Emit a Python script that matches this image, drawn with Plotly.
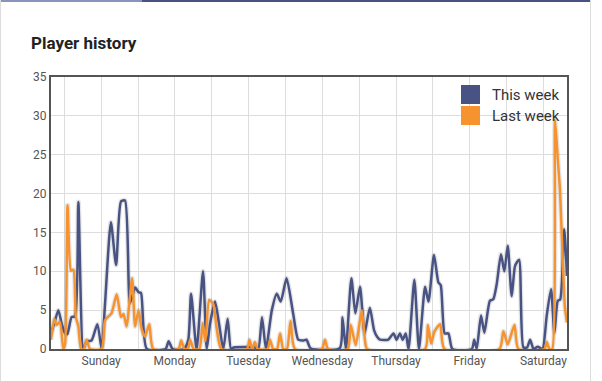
import plotly.graph_objects as go

# ---------------- data ----------------
# hours since the start of the 7‑day window (window starts 16.33 h before Sunday 00:00)
WINDOW_TO_SUNDAY = 16.33
DAY_NAMES = ["Sunday", "Monday", "Tuesday", "Wednesday", "Thursday", "Friday", "Saturday"]

this_week_h = [0, 1.2, 2.4, 3.5, 4.6, 5.3, 6.7, 7.8, 8.9, 10.5, 11.6, 13.2, 15.1, 16.5, 17.6, 19.5,
               21.2, 22.8, 24.1, 25.7, 27.4, 28.5, 29.3, 31.2, 37.3, 38.3, 39.6, 43.3, 44.7, 45.6,
               47.4, 49.5, 50.7, 51.8, 53.4, 54.7, 56.1, 57.5, 58.6, 59.5, 66.5, 67.5, 68.7, 70.0,
               71.9, 73.5, 74.8, 76.7, 78.9, 80.5, 82.2, 83.2, 84.5, 94.0, 94.9, 96.0, 97.8, 99.1,
               100.6, 102.1, 103.8, 105.2, 106.3, 107.1, 109.8, 111.5, 112.5, 113.6, 114.5, 115.5,
               116.4, 118.3, 119.8, 121.8, 122.9, 124.7, 126.1, 126.9, 128.2, 129.4, 130.7, 137.0,
               137.8, 138.6, 140.0, 141.1, 142.9, 144.0, 145.1, 146.5, 147.6, 148.7, 150.0, 151.1,
               152.4, 153.8, 155.0, 156.0, 157.1, 158.5, 160.0, 161.4, 162.8, 163.9, 165.0, 165.8,
               167.1, 168.0]
this_week_v = [2.0, 3.5, 5.0, 3.2, 2.0, 1.9, 4.1, 4.2, 18.9, 0, 1.0, 1.1, 3.2, 0, 5.9, 16.3,
               10.8, 19.0, 19.1, 5.9, 7.9, 7.3, 7.2, 0, 0, 1.0, 0, 0, 1.2, 7.1,
               0, 10.0, 0, 3.3, 6.1, 3.3, 0, 3.9, 0, 0.2, 0.2, 0, 4.1, 0,
               5.0, 7.1, 6.1, 9.1, 4.4, 1.2, 1.1, 1.2, 0.1, 0.1, 4.1, 0, 9.1, 4.6,
               8.0, 2.0, 5.3, 2.4, 1.5, 1.2, 1.2, 2.0, 1.2, 2.0, 1.2, 2.0,
               0, 8.9, 0, 8.0, 6.1, 12.1, 8.6, 8.2, 2.0, 2.0, 0, 0,
               1.2, 0, 4.3, 2.1, 6.2, 6.4, 8.3, 12.2, 10.0, 13.3, 6.8, 10.7,
               11.5, 0.2, 0.2, 1.2, 0, 0.3, 0, 4.3, 7.7, 2.1, 6.2, 6.4,
               15.4, 9.4]

last_week_h = [0, 1.1, 1.8, 2.9, 4.0, 4.6, 5.4, 6.5, 7.3, 8.1, 8.9, 9.8, 10.7, 11.6, 12.7, 16.5,
               17.6, 19.7, 21.4, 22.8, 23.6, 24.6, 26.4, 27.4, 28.5, 29.5, 30.6, 32.0, 33.3, 41.5,
               42.4, 43.4, 44.6, 45.3, 46.4, 48.3, 49.4, 50.3, 51.5, 52.8, 54.0, 55.5, 63.8, 64.6,
               65.5, 66.4, 67.3, 70.5, 71.3, 72.3, 73.6, 74.6, 75.6, 76.8, 78.0, 79.4, 88.2, 89.2,
               90.2, 96.6, 97.6, 99.2, 101.2, 102.2, 102.9, 121.8, 122.7, 123.8, 124.8, 126.7, 128.1,
               146.0, 147.3, 148.7, 150.9, 152.2, 160.7, 161.4, 162.3, 163.2, 164.1, 165.0, 165.7,
               167.3, 168.0]
last_week_v = [1.2, 3.9, 3.1, 3.5, 0, 0.7, 18.5, 10.1, 10.2, 4.1, 2.9, 0, 0, 1.2, 0, 0,
               3.7, 4.6, 7.0, 4.1, 4.5, 2.9, 9.1, 2.9, 5.0, 2.6, 1.6, 3.2, 0, 0,
               1.1, 0, 0, 1.2, 0, 0, 3.3, 1.0, 6.3, 5.8, 2.5, 0, 0, 1.2,
               0, 0.9, 0, 0, 1.2, 0, 0, 2.0, 0, 0, 3.6, 0, 0, 1.2,
               0, 0, 3.1, 0.5, 5.0, 1.2, 0, 0, 3.1, 0.7, 2.2, 3.2, 0,
               0, 2.3, 0.6, 3.1, 0, 0, 0.9, 0, 0, 29.5, 24.4, 20.5,
               5.5, 3.4]

SERIES = [("This week", this_week_h, this_week_v, "#485383"),
          ("Last week", last_week_h, last_week_v, "#f7932f")]

# ---------------- layout helpers ----------------
W, H = 602, 381
L, R, T, B = 51, 35, 77, 32
PW, PH = W - L - R, H - T - B


def fx(px):
    return (px - L) / PW


def fy(py):
    return (H - B - py) / PH


fig = go.Figure()

# soft shadow under the lines
for name, hs, vs, col in SERIES:
    fig.add_trace(go.Scatter(
        x=[h - WINDOW_TO_SUNDAY for h in hs], y=vs, mode="lines",
        line=dict(color="rgba(0,0,0,0.10)", width=5, shape="spline", smoothing=0.6),
        hoverinfo="skip", showlegend=False))

for name, hs, vs, col in SERIES:
    fig.add_trace(go.Scatter(
        x=[h - WINDOW_TO_SUNDAY for h in hs], y=vs, mode="lines", name=name,
        line=dict(color=col, width=2.5, shape="spline", smoothing=0.6),
        showlegend=False))

tickvals = [-12] + [12 * k for k in range(13)]
ticktext = [""] + [DAY_NAMES[k // 2] if k % 2 == 0 else "" for k in range(13)]

shapes = []
annotations = []

# legend (square swatches + labels)
for i, (name, hs, vs, col) in enumerate(SERIES):
    top = 85 + i * 21
    shapes.append(dict(type="rect", xref="paper", yref="paper",
                       x0=fx(461), x1=fx(480), y0=fy(top + 19), y1=fy(top),
                       fillcolor=col, line=dict(width=0)))
    annotations.append(dict(text=name, xref="paper", yref="paper", x=fx(490),
                            y=fy(top + 9.5), xanchor="left", yanchor="middle",
                            showarrow=False, font=dict(family="Roboto", size=15, color="#333")))

# title
annotations.append(dict(text="<b>Player history</b>", xref="paper", yref="paper",
                        x=fx(29), y=fy(43), xanchor="left", yanchor="middle", showarrow=False,
                        font=dict(family="Roboto", size=17, color="#222")))

# card frame
shapes += [
    dict(type="rect", xref="paper", yref="paper", x0=fx(0), x1=fx(142), y0=fy(2), y1=fy(0),
         fillcolor="#8a93bb", line=dict(width=0), layer="above"),
    dict(type="rect", xref="paper", yref="paper", x0=fx(142), x1=fx(590), y0=fy(2), y1=fy(0),
         fillcolor="#485383", line=dict(width=0), layer="above"),
    dict(type="line", xref="paper", yref="paper", x0=fx(0.5), x1=fx(0.5), y0=fy(381), y1=fy(0),
         line=dict(color="#dddddd", width=1)),
    dict(type="line", xref="paper", yref="paper", x0=fx(590.5), x1=fx(590.5), y0=fy(381), y1=fy(0),
         line=dict(color="#dddddd", width=1)),
]

fig.update_layout(
    width=W, height=H,
    margin=dict(l=L, r=R, t=T, b=B, pad=0),
    paper_bgcolor="white", plot_bgcolor="white",
    showlegend=False,
    font=dict(family="Roboto", color="#555"),
    shapes=shapes, annotations=annotations,
    xaxis=dict(range=[-WINDOW_TO_SUNDAY, 168 - WINDOW_TO_SUNDAY], tickvals=tickvals,
               ticktext=ticktext, showgrid=True, gridcolor="#dddddd", gridwidth=1,
               showline=True, linecolor="#555", linewidth=2, mirror=True, zeroline=False,
               ticks="", tickfont=dict(size=12, color="#555")),
    yaxis=dict(range=[0, 35], dtick=5, showgrid=True, gridcolor="#dddddd", gridwidth=1,
               showline=True, linecolor="#555", linewidth=2, mirror=True, zeroline=False,
               ticks="", tickfont=dict(size=12, color="#555")),
)

fig.write_html("out.html", config={"displayModeBar": False},
               post_script="document.body.style.margin='0';")
